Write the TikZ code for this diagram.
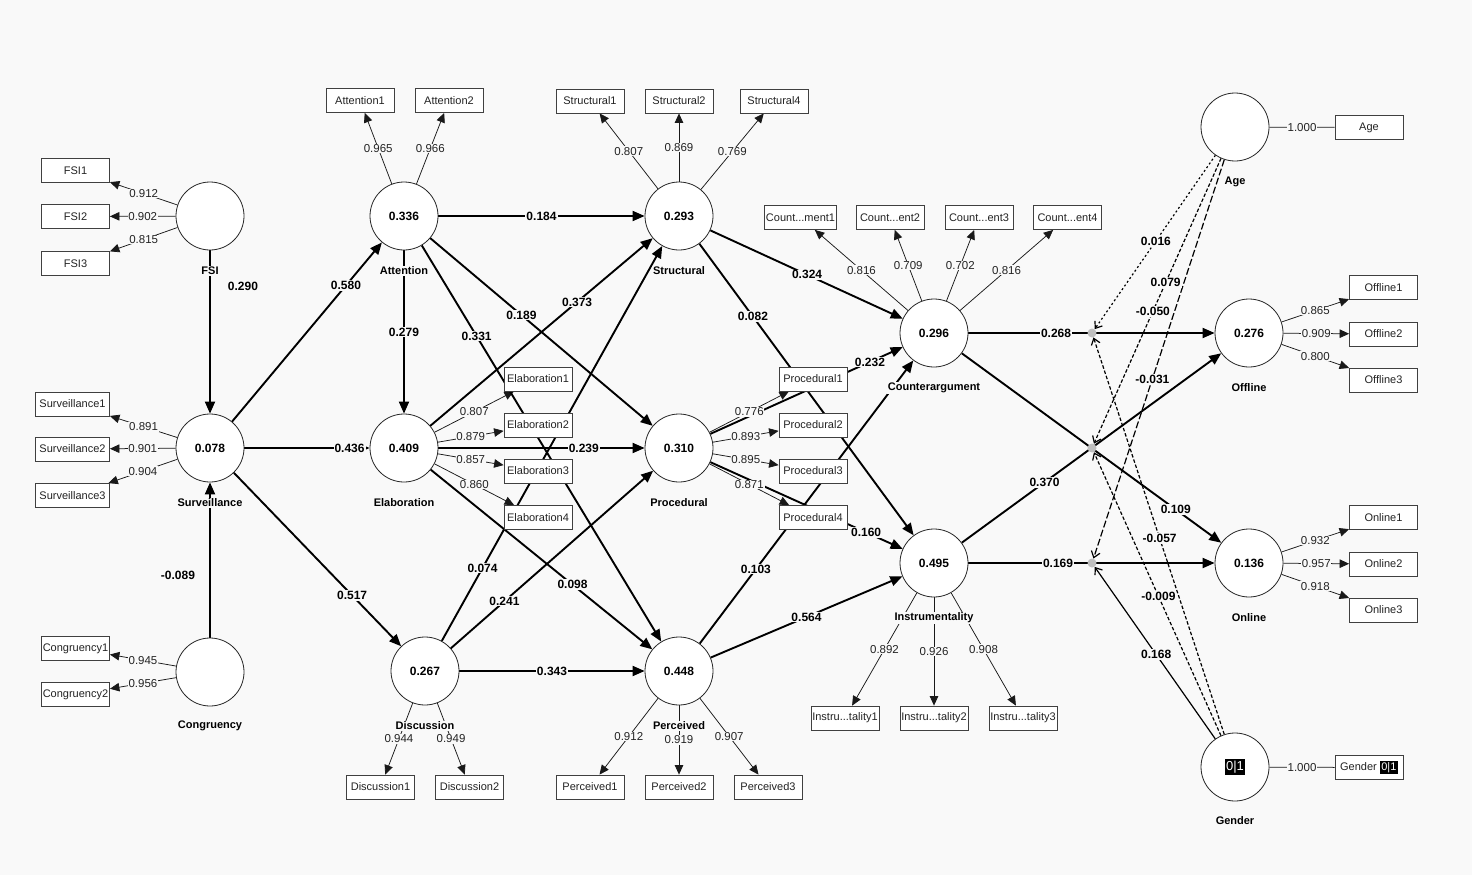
\documentclass[tikz,border=0pt]{standalone}
\usepackage{fontspec}
\setmainfont{Liberation Sans}
\usetikzlibrary{arrows.meta}
\definecolor{bgc}{RGB}{249,249,249}
\definecolor{txt}{RGB}{35,35,35}
\pgfdeclarelayer{back}
\pgfdeclarelayer{edges}
\pgfdeclarelayer{front}
\pgfsetlayers{back,edges,main,front}
\newcommand\mypath[5]{%
  \begin{pgfonlayer}{edges}\draw[pathln] (#1) -- (#2);\end{pgfonlayer}%
  \begin{pgfonlayer}{front}\path (#1) -- node[coef,pos=#3,#5]{#4} (#2);\end{pgfonlayer}}
\newcommand\myload[3]{%
  \begin{pgfonlayer}{edges}\draw[loadln] (#1) -- (#2);\end{pgfonlayer}%
  \begin{pgfonlayer}{front}\path (#1) -- node[ld]{#3} (#2);\end{pgfonlayer}}
\newcommand\mymod[5]{%
  \begin{pgfonlayer}{edges}\draw[modln,#5] (#1) -- (#2);\end{pgfonlayer}%
  \begin{pgfonlayer}{front}\path (#1) -- node[coef,pos=#3]{#4} (#2);\end{pgfonlayer}}
\newcommand\modlabel[4]{%
  \begin{pgfonlayer}{front}\path (#1) -- node[coef,pos=#3]{#4} (#2);\end{pgfonlayer}}
\newcommand\invbox[1]{{\setlength\fboxsep{1.5pt}\colorbox{black}{\textcolor{white}{#1}}}}
\begin{document}
\begin{tikzpicture}[x=1pt,y=-1pt,
  lv/.style={circle, draw=black!85, line width=0.8pt, fill=white, minimum size=68pt, inner sep=0pt, font=\fontsize{12}{14}\selectfont\bfseries},
  mv/.style={rectangle, draw=black!75, line width=0.8pt, fill=white, minimum width=68pt, minimum height=24pt, inner sep=1.2pt, text=txt, font=\fontsize{11}{13}\selectfont},
  mvw/.style={mv, minimum width=74pt},
  lvname/.style={fill=bgc, inner sep=1pt, font=\fontsize{11}{13}\selectfont\bfseries},
  coef/.style={fill=bgc, inner sep=1pt, font=\fontsize{12}{14}\selectfont\bfseries},
  ld/.style={fill=bgc, inner sep=0.8pt, text=txt, font=\fontsize{11.5}{13}\selectfont},
  pathln/.style={line width=1.9pt, -{Triangle[length=12pt,width=10pt]}},
  loadln/.style={line width=0.75pt, draw=black!90, -{Triangle[length=9.5pt,width=8.5pt]}},
  plainln/.style={line width=0.75pt, draw=black!90},
  modln/.style={line width=1.2pt, -{Straight Barb[length=6pt,width=9pt]}},
  dotln/.style={dash pattern=on 2pt off 2.5pt},
  shortdash/.style={dash pattern=on 3.5pt off 2pt},
  longdash/.style={dash pattern=on 7pt off 2.5pt},
  gdot/.style={circle, fill=black!25, draw=none, minimum size=9pt, inner sep=0pt}
]
\begin{pgfonlayer}{back}
\fill[bgc] (0,0) rectangle (1472,875);
\end{pgfonlayer}
\useasboundingbox (0,0) rectangle (1472,875);

% latent variables
\node[lv] (FSI) at (210,216) {};
\node[lv] (SUR) at (210,448) {0.078};
\node[lv] (CON) at (210,672) {};
\node[lv] (ATT) at (404,216) {0.336};
\node[lv] (ELA) at (404,448) {0.409};
\node[lv] (DIS) at (425,671) {0.267};
\node[lv] (STR) at (679,216) {0.293};
\node[lv] (PRO) at (679,448) {0.310};
\node[lv] (PER) at (679,671) {0.448};
\node[lv] (CTR) at (934,333) {0.296};
\node[lv] (INS) at (934,563) {0.495};
\node[lv] (OFF) at (1249,333) {0.276};
\node[lv] (ONL) at (1249,563) {0.136};
\node[lv] (AGE) at (1235,127) {};
\node[lv] (GEN) at (1235,767) {\mdseries\fontsize{13}{15}\selectfont\invbox{0|1}};

% indicators
\node[mv] (FSI1) at (75.5,170.5) {FSI1};
\node[mv] (FSI2) at (75.5,216.5) {FSI2};
\node[mv] (FSI3) at (75.5,263.5) {FSI3};
\node[mvw] (SUR1) at (72.5,404) {Surveillance1};
\node[mvw] (SUR2) at (72.5,449) {Surveillance2};
\node[mvw] (SUR3) at (72.5,495.5) {Surveillance3};
\node[mv] (CON1) at (75.5,648.5) {Congruency1};
\node[mv] (CON2) at (75.5,694.5) {Congruency2};
\node[mv] (ATT1) at (360,100.5) {Attention1};
\node[mv] (ATT2) at (449,100.5) {Attention2};
\node[mv] (STR1) at (590,101) {Structural1};
\node[mv] (STR2) at (679,101) {Structural2};
\node[mv] (STR4) at (774,101) {Structural4};
\node[mv] (CTR1) at (800.5,217.5) {Count...ment1};
\node[mv] (CTR2) at (890,217.5) {Count...ent2};
\node[mv] (CTR3) at (979,217.5) {Count...ent3};
\node[mv] (CTR4) at (1067.5,217.5) {Count...ent4};
\node[mv] (ELA1) at (538,379) {Elaboration1};
\node[mv] (ELA2) at (538,425) {Elaboration2};
\node[mv] (ELA3) at (538,471) {Elaboration3};
\node[mv] (ELA4) at (538,517.5) {Elaboration4};
\node[mv] (PRO1) at (813,379) {Procedural1};
\node[mv] (PRO2) at (813,425) {Procedural2};
\node[mv] (PRO3) at (813,471) {Procedural3};
\node[mv] (PRO4) at (813,517.5) {Procedural4};
\node[mv] (INS1) at (845,718) {Instru...tality1};
\node[mv] (INS2) at (934,718) {Instru...tality2};
\node[mv] (INS3) at (1023,718) {Instru...tality3};
\node[mv] (DIS1) at (380.5,787) {Discussion1};
\node[mv] (DIS2) at (469.5,787) {Discussion2};
\node[mv] (PER1) at (590,787) {Perceived1};
\node[mv] (PER2) at (679,787) {Perceived2};
\node[mv] (PER3) at (768,787) {Perceived3};
\node[mv] (AGEi) at (1369,127.5) {Age};
\node[mv] (OFF1) at (1383.5,287.5) {Offline1};
\node[mv] (OFF2) at (1383.5,334) {Offline2};
\node[mv] (OFF3) at (1383.5,380) {Offline3};
\node[mv] (ONL1) at (1383.5,517.5) {Online1};
\node[mv] (ONL2) at (1383.5,564) {Online2};
\node[mv] (ONL3) at (1383.5,610) {Online3};
\node[mv] (GENi) at (1369,767.5) {Gender \invbox{0|1}};

% moderation points
\node[gdot] (P1) at (1092,333) {};
\node[gdot] (P2) at (1092,448) {};
\node[gdot] (P3) at (1092,563) {};

% outer loadings
\myload{FSI}{FSI1}{0.912}
\myload{FSI}{FSI2}{0.902}
\myload{FSI}{FSI3}{0.815}
\myload{SUR}{SUR1}{0.891}
\myload{SUR}{SUR2}{0.901}
\myload{SUR}{SUR3}{0.904}
\myload{CON}{CON1}{0.945}
\myload{CON}{CON2}{0.956}
\myload{ATT}{ATT1}{0.965}
\myload{ATT}{ATT2}{0.966}
\myload{STR}{STR1}{0.807}
\myload{STR}{STR2}{0.869}
\myload{STR}{STR4}{0.769}
\myload{CTR}{CTR1}{0.816}
\myload{CTR}{CTR2}{0.709}
\myload{CTR}{CTR3}{0.702}
\myload{CTR}{CTR4}{0.816}
\myload{ELA}{ELA1}{0.807}
\myload{ELA}{ELA2}{0.879}
\myload{ELA}{ELA3}{0.857}
\myload{ELA}{ELA4}{0.860}
\myload{PRO}{PRO1}{0.776}
\myload{PRO}{PRO2}{0.893}
\myload{PRO}{PRO3}{0.895}
\myload{PRO}{PRO4}{0.871}
\myload{INS}{INS1}{0.892}
\myload{INS}{INS2}{0.926}
\myload{INS}{INS3}{0.908}
\myload{DIS}{DIS1}{0.944}
\myload{DIS}{DIS2}{0.949}
\myload{PER}{PER1}{0.912}
\myload{PER}{PER2}{0.919}
\myload{PER}{PER3}{0.907}
\myload{OFF}{OFF1}{0.865}
\myload{OFF}{OFF2}{0.909}
\myload{OFF}{OFF3}{0.800}
\myload{ONL}{ONL1}{0.932}
\myload{ONL}{ONL2}{0.957}
\myload{ONL}{ONL3}{0.918}
\begin{pgfonlayer}{edges}
\draw[plainln] (AGE) -- (AGEi);
\draw[plainln] (GEN) -- (GENi);
\end{pgfonlayer}
\begin{pgfonlayer}{front}
\path (AGE) -- node[ld]{1.000} (AGEi);
\path (GEN) -- node[ld]{1.000} (GENi);
\end{pgfonlayer}

% structural paths
\mypath{FSI}{SUR}{0.22}{0.290}{xshift=33pt}
\mypath{CON}{SUR}{0.40}{-0.089}{xshift=-32pt}
\mypath{SUR}{ATT}{0.76}{0.580}{}
\mypath{SUR}{ELA}{0.84}{0.436}{}
\mypath{SUR}{DIS}{0.707}{0.517}{}
\mypath{ATT}{ELA}{0.5}{0.279}{}
\mypath{ATT}{STR}{0.5}{0.184}{}
\mypath{ATT}{PRO}{0.41}{0.189}{}
\mypath{ATT}{PER}{0.229}{0.331}{}
\mypath{ELA}{STR}{0.66}{0.373}{}
\mypath{ELA}{PRO}{0.705}{0.239}{}
\mypath{ELA}{PER}{0.64}{0.098}{}
\mypath{DIS}{STR}{0.185}{0.074}{}
\mypath{DIS}{PRO}{0.265}{0.241}{}
\mypath{DIS}{PER}{0.5}{0.343}{}
\mypath{STR}{CTR}{0.503}{0.324}{}
\mypath{STR}{INS}{0.25}{0.082}{}
\mypath{PRO}{CTR}{0.83}{0.232}{}
\mypath{PRO}{INS}{0.81}{0.160}{}
\mypath{PER}{CTR}{0.263}{0.103}{}
\mypath{PER}{INS}{0.50}{0.564}{}
\mypath{CTR}{OFF}{0.356}{0.268}{}
\mypath{CTR}{ONL}{0.825}{0.109}{}
\mypath{INS}{OFF}{0.319}{0.370}{}
\mypath{INS}{ONL}{0.364}{0.169}{}

% moderating effects
\mymod{AGE}{P1}{0.493}{0.016}{dotln}
\mymod{AGE}{P2}{0.436}{0.079}{shortdash}
\modlabel{AGE}{P2}{0.536}{-0.050}
\mymod{AGE}{P3}{0.55}{-0.031}{longdash}
\mymod{GEN}{P1}{0.494}{-0.057}{shortdash}
\mymod{GEN}{P2}{0.492}{-0.009}{shortdash}
\mymod{GEN}{P3}{0.49}{0.168}{}

% latent variable names
\begin{pgfonlayer}{front}
\node[lvname] (nFSI) at (210,271) {FSI};
\node[lvname] (nSUR) at (210,503) {Surveillance};
\node[lvname] (nCON) at (210,726) {Congruency};
\node[lvname] (nATT) at (404,271) {Attention};
\node[lvname] (nELA) at (404,503) {Elaboration};
\node[lvname] (nDIS) at (425,726) {Discussion};
\node[lvname] (nSTR) at (679,271) {Structural};
\node[lvname] (nPRO) at (679,503) {Procedural};
\node[lvname] (nPER) at (679,726) {Perceived};
\node[lvname] (nCTR) at (934,388) {Counterargument};
\node[lvname] (nINS) at (934,618) {Instrumentality};
\node[lvname] (nOFF) at (1249,388) {Offline};
\node[lvname] (nONL) at (1249,618) {Online};
\node[lvname] (nAGE) at (1235,182) {Age};
\node[lvname] (nGEN) at (1235,821) {Gender};
\end{pgfonlayer}
\end{tikzpicture}
\end{document}
